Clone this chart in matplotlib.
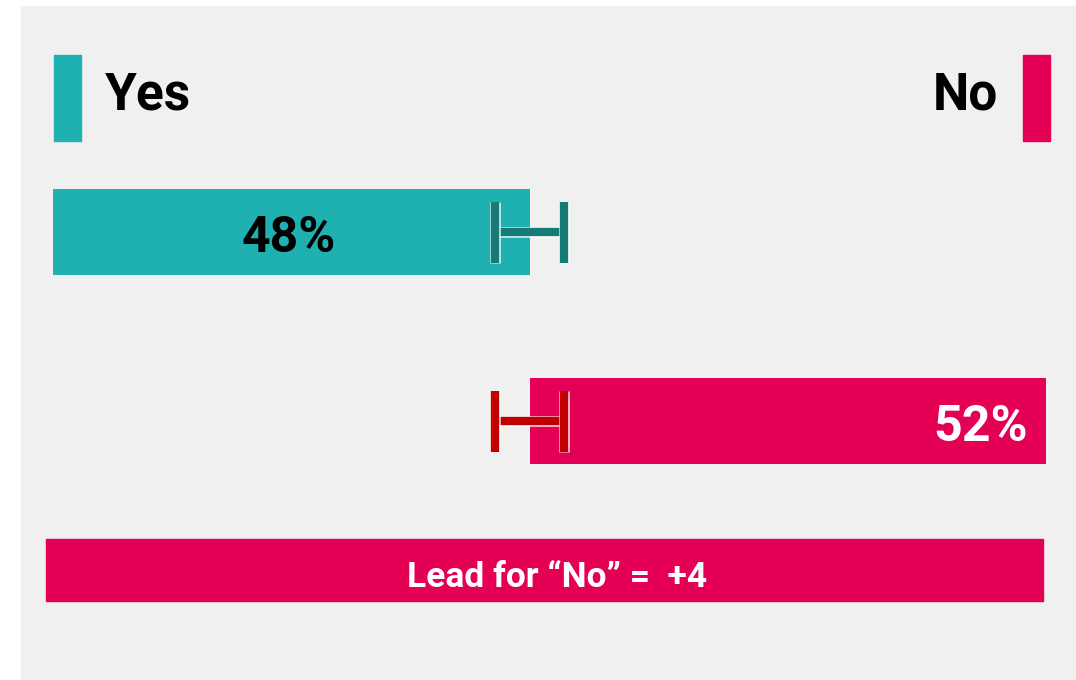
import matplotlib
matplotlib.use("Agg")
import matplotlib.pyplot as plt
import matplotlib.patheffects as pe
from matplotlib.patches import Rectangle

plt.rcParams['font.family'] = ['Roboto', 'DejaVu Sans']

categories = ["Yes", "No"]
values = [48, 52]
margin = 3.5
lead_label = "Lead for \u201cNo\u201d =  +4"

teal = "#1fb1b0"
red = "#e30055"
teal_dark = "#167a76"
red_dark = "#c00000"

W, H = 1076, 680
fig = plt.figure(figsize=(W / 100, H / 100), dpi=100)
fig.patch.set_facecolor("white")


def px(x, y, w, h):
    # pixel box (top-left origin) -> figure fraction
    return (x / W, 1 - (y + h) / H, w / W, h / H)


bx, by, bw, bh = px(21, 6, 1055, 674)
fig.patches.append(Rectangle((bx, by), bw, bh, transform=fig.transFigure,
                             color="#f0f0f0", zorder=-1))

# axes: x in percent, y in pixel rows
ax = fig.add_axes([0, 0, 1, 1])
ax.set_zorder(2)
ax.set_facecolor("none")
scale = (1046 - 53) / 100
ax.set_xlim(-53 / scale, (W - 53) / scale)
ax.set_ylim(H, 0)
ax.axis("off")

rows = [232, 421]
ax.barh(rows[0], values[0], left=0, height=86, color=teal, zorder=2)
ax.barh(rows[1], values[1], left=100 - values[1], height=86, color=red, zorder=2)

# error bars with thin white outline
effects = [pe.withStroke(linewidth=7.6, foreground=(1, 1, 1, 0.85))]
for yy, xc, col in [(rows[0], values[0], teal_dark), (rows[1], 100 - values[1], red_dark)]:
    lo, hi = xc - margin, xc + margin
    kw = dict(color=col, lw=6, solid_capstyle="butt", zorder=3, path_effects=effects)
    ax.plot([lo, hi], [yy, yy], **kw)
    ax.plot([lo, lo], [yy - 30.5, yy + 30.5], **kw)
    ax.plot([hi, hi], [yy - 30.5, yy + 30.5], **kw)

ax.text(values[0] / 2 - 0.3, rows[0] + 20, f"{values[0]}%", ha="center", va="baseline",
        fontsize=36, fontweight="bold", color="black", zorder=4)
ax.text((1028 - 53) / scale, rows[1] + 20, f"{values[1]}%", ha="right", va="baseline",
        fontsize=36, fontweight="bold", color="white", zorder=4)

# legend swatches
for x0, col in [(54, teal), (1023, red)]:
    rx, ry, rw, rh = px(x0, 55, 27, 86)
    fig.patches.append(Rectangle((rx, ry), rw, rh, transform=fig.transFigure,
                                 color=col, zorder=1))
fig.text(105 / W, 1 - 110 / H, categories[0], ha="left", va="baseline",
         fontsize=37, fontweight="bold", color="black")
fig.text(998 / W, 1 - 110 / H, categories[1], ha="right", va="baseline",
         fontsize=37, fontweight="bold", color="black")

# lead banner
lx, ly, lw, lh = px(46, 539, 997, 62)
fig.patches.append(Rectangle((lx, ly), lw, lh, transform=fig.transFigure,
                             color=red, zorder=1))
fig.text(557 / W, 1 - 587 / H, lead_label, ha="center", va="baseline",
         fontsize=25.5, fontweight="bold", color="white")

fig.savefig("out.png", dpi=100)
